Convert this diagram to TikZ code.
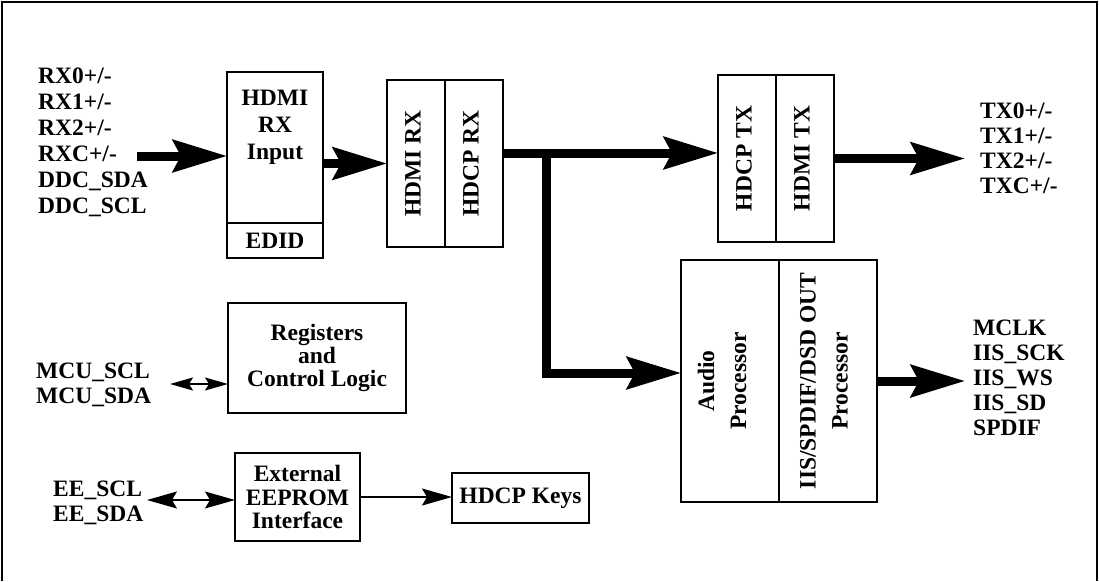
\documentclass[tikz,border=0pt]{standalone}
\usepackage{fontspec}
\setmainfont{Liberation Serif}
\usepackage{tikz}
\usetikzlibrary{arrows.meta,positioning}
\tikzset{
  >={Stealth[length=54pt, width=32pt, inset=8pt]},
  cell/.style={draw, line width=2pt, outer sep=0pt, inner sep=0pt, align=center},
  boxtext/.style={inner sep=0pt, align=center, font=\fontsize{23.5}{23}\selectfont\bfseries},
  vtext/.style={rotate=90, inner sep=0pt, align=center, font=\fontsize{23.5}{32}\selectfont\bfseries},
  sig/.style={anchor=west, inner sep=0pt, align=left},
  bus/.style={line width=9pt, ->},
  link/.style={line width=1.5pt, -{Stealth[length=30pt, width=17pt, inset=5pt]}},
  duplex/.style={line width=1.5pt, {Stealth[length=30pt, width=17pt, inset=5pt]}-{Stealth[length=30pt, width=17pt, inset=5pt]}},
  smallduplex/.style={line width=1.5pt, {Stealth[length=23pt, width=13pt, inset=4pt]}-{Stealth[length=23pt, width=13pt, inset=4pt]}},
  frame/.style={line width=2pt},
}
\begin{document}
\begin{tikzpicture}[x=1pt, y=-1pt, font=\fontsize{23.5}{25}\selectfont\bfseries]
  \useasboundingbox (0,0) rectangle (1099,581);
  \draw[frame] (2,581) -- (2,2) -- (1097,2) -- (1097,581);

  % receiver side
  \node[cell, anchor=north west, minimum width=96pt, minimum height=151pt] (rxin) at (227,72) {};
  \node[cell, below=0pt of rxin, minimum width=96pt, minimum height=35pt] (edid) {EDID};
  \node[boxtext, font=\fontsize{23.5}{27}\selectfont\bfseries] (rxtext) at ([yshift=20pt]rxin.center) {HDMI\\RX\\Input};

  \node[cell, anchor=north west, minimum width=58pt, minimum height=167pt] (hdmirx) at (387,80) {};
  \node[cell, right=0pt of hdmirx, minimum width=58pt, minimum height=167pt] (hdcprx) {};
  \node[vtext] (hdmirxtext) at ([xshift=-3pt]hdmirx.center) {HDMI RX};
  \node[vtext] (hdcprxtext) at ([xshift=-3pt]hdcprx.center) {HDCP RX};

  % transmitter side
  \node[cell, anchor=north west, minimum width=58pt, minimum height=167pt] (hdcptx) at (718,75) {};
  \node[cell, right=0pt of hdcptx, minimum width=58pt, minimum height=167pt] (hdmitx) {};
  \node[vtext] (hdcptxtext) at ([xshift=-3pt]hdcptx.center) {HDCP TX};
  \node[vtext] (hdmitxtext) at ([xshift=-3pt]hdmitx.center) {HDMI TX};

  % audio
  \node[cell, anchor=north west, minimum width=98pt, minimum height=242pt] (audio) at (681,260) {};
  \node[cell, right=0pt of audio, minimum width=98pt, minimum height=242pt] (iisout) {};
  \node[vtext] (audiotext) at ([xshift=-8pt]audio.center) {Audio\\Processor};
  \node[vtext] (iisouttext) at ([xshift=-4pt]iisout.center) {IIS/SPDIF/DSD OUT\\Processor};

  % control
  \node[cell, anchor=north west, minimum width=178pt, minimum height=110pt,
        font=\fontsize{23.5}{23}\selectfont\bfseries] (regs) at (228,303) {Registers\\and\\Control Logic};
  \node[cell, anchor=north west, minimum width=125pt, minimum height=88pt,
        font=\fontsize{23.5}{23.5}\selectfont\bfseries] (eeprom) at (235,453) {External\\EEPROM\\Interface};
  \node[cell, anchor=north west, minimum width=137pt, minimum height=50pt] (keys) at (452,473) {HDCP Keys};

  % pins
  \node[sig, font=\fontsize{23.5}{26}\selectfont\bfseries] (rxsig) at (38,142)
    {RX0+/-\\RX1+/-\\RX2+/-\\RXC+/-\\DDC\_SDA\\DDC\_SCL};
  \node[sig] (txsig) at (980,148.5) {TX0+/-\\TX1+/-\\TX2+/-\\TXC+/-};
  \node[sig] (audsig) at (973,377.5) {MCLK\\IIS\_SCK\\IIS\_WS\\IIS\_SD\\SPDIF};
  \node[sig] (mcusig) at (36,384.5) {MCU\_SCL\\MCU\_SDA};
  \node[sig] (eesig) at (53,502.5) {EE\_SCL\\EE\_SDA};

  \coordinate (rxtail) at (137,156);
  \coordinate (split) at (546,153);
  \coordinate (audin) at (546,373);
  \coordinate (mcuend) at (170,384);
  \coordinate (eeend) at (147,500);

  \draw[bus] (rxtail) -- (rxin.west |- rxtail);
  \draw[bus] (rxin.east |- hdmirx.west) -- (hdmirx.west);
  \draw[bus] (hdcprx.east |- split) -- (hdcptx.west |- split);
  \draw[bus] (split) -- (audin) -- (audio.west |- audin);
  \draw[bus, shorten >=15pt] (hdmitx.east) -- (hdmitx.east -| txsig.west);
  \draw[bus, shorten >=8pt] (iisout.east) -- (iisout.east -| audsig.west);

  \draw[smallduplex] (mcuend) -- (regs.west |- mcuend);
  \draw[duplex] (eeend) -- (eeprom.west |- eeend);
  \draw[link] (eeprom.east) -- (eeprom.east -| keys.west);
\end{tikzpicture}
\end{document}
